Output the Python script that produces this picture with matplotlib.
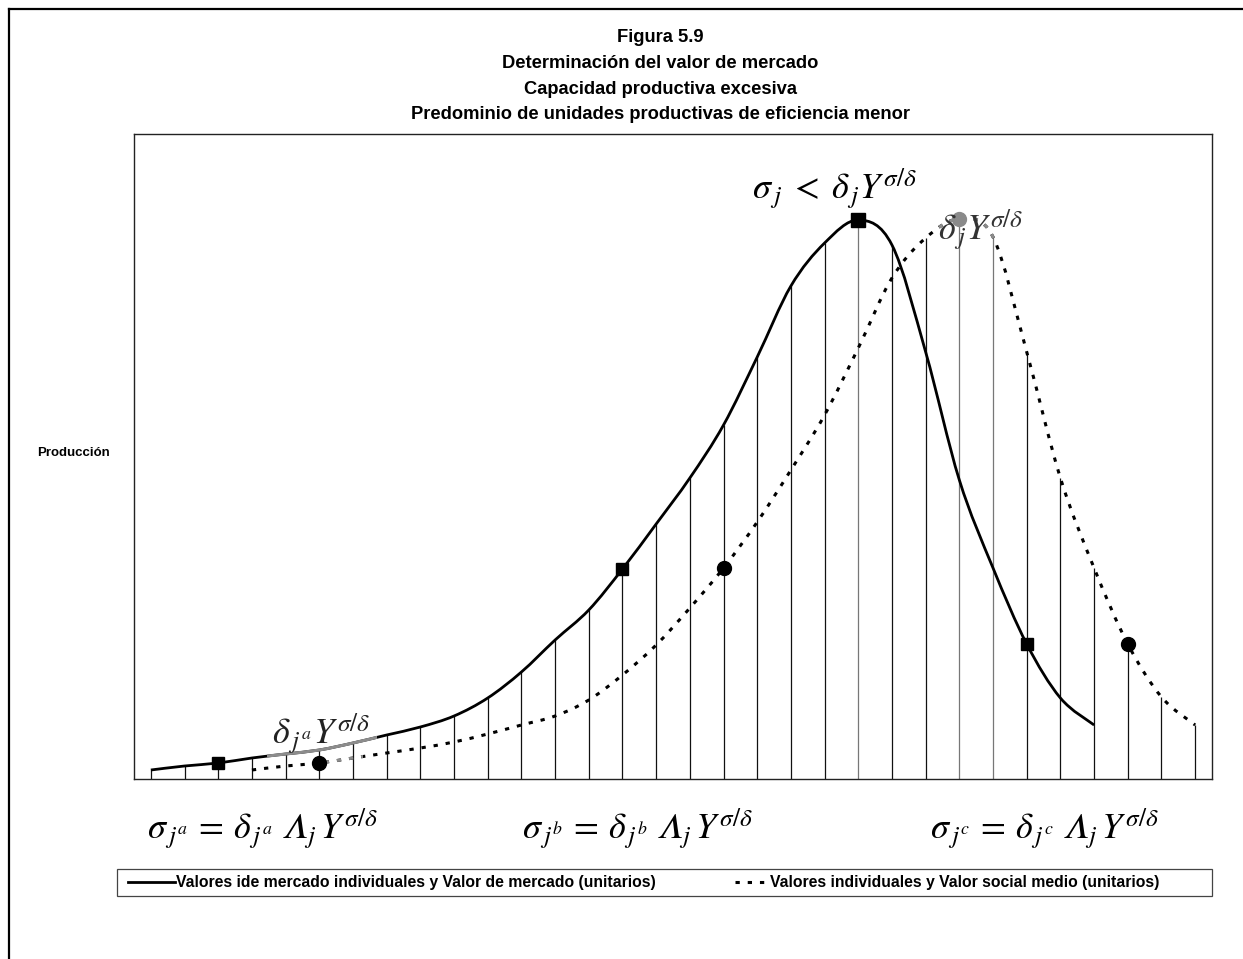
import numpy as np
import matplotlib.pyplot as plt
from matplotlib.path import Path
from matplotlib.patches import PathPatch, Rectangle
from matplotlib.lines import Line2D

plt.rcParams['font.family'] = ['Liberation Sans', 'DejaVu Sans']
plt.rcParams['mathtext.fontset'] = 'stix'

# ===== datos =====
unidades = np.arange(32)
valor_mercado = [9, 13, 16, 21, 25, 29, 36, 44, 52, 63, 81, 107, 139, 169, 210, 255,
                 301, 354, 422, 493, 536, 559, 534, 427, 299, 211, 135, 81, 54,
                 None, None, None]
valor_social = [None, None, None, 9, 13, 16, 21, 26, 31, 37, 45, 54, 63, 79, 104, 134,
                171, 211, 257, 309, 364, 431, 501, 541, 560, 542, 427, 301, 211,
                135, 82, 54]
marcas_mercado = [2, 14, 26]
pico_mercado = 21
marcas_social = [5, 17, 29]
pico_social = 24

titulo = ["Figura 5.9",
          "Determinación del valor de mercado",
          "Capacidad productiva excesiva",
          "Predominio de unidades productivas de eficiencia menor"]
leyenda = ["Valores ide mercado individuales y Valor de mercado (unitarios)",
           "Valores individuales y Valor social medio (unitarios)"]

W, H = 1243, 959


def fx(x):
    return x / W


def fy(y):
    return 1 - y / H


def curva(x, y):
    # linea suavizada tipo Excel (Catmull-Rom -> Bezier)
    pts = np.column_stack([x, y]).astype(float)
    verts, codes = [pts[0]], [Path.MOVETO]
    n = len(pts)
    for i in range(n - 1):
        p0, p1 = pts[max(i - 1, 0)], pts[i]
        p2, p3 = pts[i + 1], pts[min(i + 2, n - 1)]
        verts += [p1 + (p2 - p0) / 6, p2 - (p3 - p1) / 6, p2]
        codes += [Path.CURVE4] * 3
    return Path(verts, codes)


vm = np.array([np.nan if v is None else v for v in valor_mercado], float)
vs = np.array([np.nan if v is None else v for v in valor_social], float)
ok_m = ~np.isnan(vm)
ok_s = ~np.isnan(vs)

fig = plt.figure(figsize=(W / 100, H / 100), dpi=100)
ax = fig.add_axes([fx(134), fy(779), fx(1212 - 134), (779 - 134) / H])
ax.set_xlim(-0.5, 31.5)
ax.set_ylim(0, 645)
ax.set_xticks([])
ax.set_yticks([])
for s in ax.spines.values():
    s.set_linewidth(1.0)
    s.set_color('#222222')

# lineas de unión
tope = np.fmax(vm, vs)
colores = ['#777777' if i in (pico_mercado, pico_social, pico_social + 1) else '#111111'
           for i in unidades]
ax.vlines(unidades, 0, tope, colors=colores, lw=0.9, zorder=1)

# curvas
p_m = curva(unidades[ok_m], vm[ok_m])
p_s = curva(unidades[ok_s], vs[ok_s])
ax.add_patch(PathPatch(p_m, fill=False, lw=2.0, ec='black', zorder=3))
ax.add_patch(PathPatch(p_s, fill=False, lw=2.2, ec='black', ls=(0, (1.4, 2.6)),
                       capstyle='butt', zorder=3))

# tramos resaltados en gris
for path, x0, x1, estilo in [(p_m, 3.45, 6.7, '-'),
                             (p_s, 4.8, 6.3, (0, (1.4, 2.6))),
                             (p_s, 23.4, 25.1, (0, (1.4, 2.6)))]:
    pp = PathPatch(path, fill=False, lw=2.2, ec='#8c8c8c', ls=estilo, capstyle='butt', zorder=4)
    ax.add_patch(pp)
    pp.set_clip_path(Rectangle((x0, 0), x1 - x0, 645, transform=ax.transData))

# marcadores
ax.plot(unidades[marcas_mercado], vm[marcas_mercado], 's', color='black', ms=8, zorder=5)
ax.plot([pico_mercado], [vm[pico_mercado]], 's', color='black', ms=10, zorder=5)
ax.plot(unidades[marcas_social], vs[marcas_social], 'o', color='black', ms=10, zorder=5)
ax.plot([pico_social], [vs[pico_social]], 'o', color='#8a8a8a', ms=10, zorder=5)

# textos
for i, t in enumerate(titulo):
    fig.text(fx(660), fy(38 + 25.5 * i), t, ha='center', va='center',
             fontsize=13.2, fontweight='bold')
fig.text(fx(37), fy(453), "Producción", ha='left', va='center',
         fontsize=9.5, fontweight='bold')

fig.text(fx(752), fy(200), r'$\sigma_{\,j}\; < \;\delta_{\,j}Y^{\sigma/\delta}$', fontsize=26,
         va='baseline')
fig.text(fx(938), fy(241), r'$\delta_{\,j}Y^{\sigma/\delta}$', fontsize=26,
         va='baseline', color='#333333')
fig.text(fx(272), fy(745), r'$\delta_{\,j^a}Y^{\sigma/\delta}$', fontsize=26,
         va='baseline', color='#222222')

formulas = [(147, r'$\sigma_{\,j^a}\, = \,\delta_{\,j^a}\;𝛬_j\,Y^{\sigma/\delta}$'),
            (522, r'$\sigma_{\,j^b}\, = \,\delta_{\,j^b}\;𝛬_j\,Y^{\sigma/\delta}$'),
            (930, r'$\sigma_{\,j^c}\, = \,\delta_{\,j^c}\;𝛬_j\,Y^{\sigma/\delta}$')]
for x, t in formulas:
    fig.text(fx(x), fy(840), t, fontsize=26, va='baseline')

# leyenda
fig.add_artist(Rectangle((fx(117), fy(896)), fx(1212 - 117), (896 - 869) / H,
                         transform=fig.transFigure, fill=False, lw=0.9, ec='#444444'))
fig.add_artist(Line2D([fx(128), fx(175)], [fy(882), fy(882)], transform=fig.transFigure,
                      color='black', lw=2.0))
fig.add_artist(Line2D([fx(735), fx(768)], [fy(882), fy(882)], transform=fig.transFigure,
                      color='black', lw=2.2, ls=(0, (1.4, 2.6)), dash_capstyle='butt'))
fig.text(fx(176), fy(882), leyenda[0], fontsize=11.3, fontweight='bold', va='center')
fig.text(fx(770), fy(882), leyenda[1], fontsize=11.3, fontweight='bold', va='center')

# marco del grafico
fig.add_artist(Line2D([fx(9), fx(9)], [fy(9), 0], transform=fig.transFigure,
                      color='black', lw=1.6))
fig.add_artist(Line2D([fx(9), 1], [fy(9), fy(9)], transform=fig.transFigure,
                      color='black', lw=1.6))

fig.savefig('out.png', dpi=100)
